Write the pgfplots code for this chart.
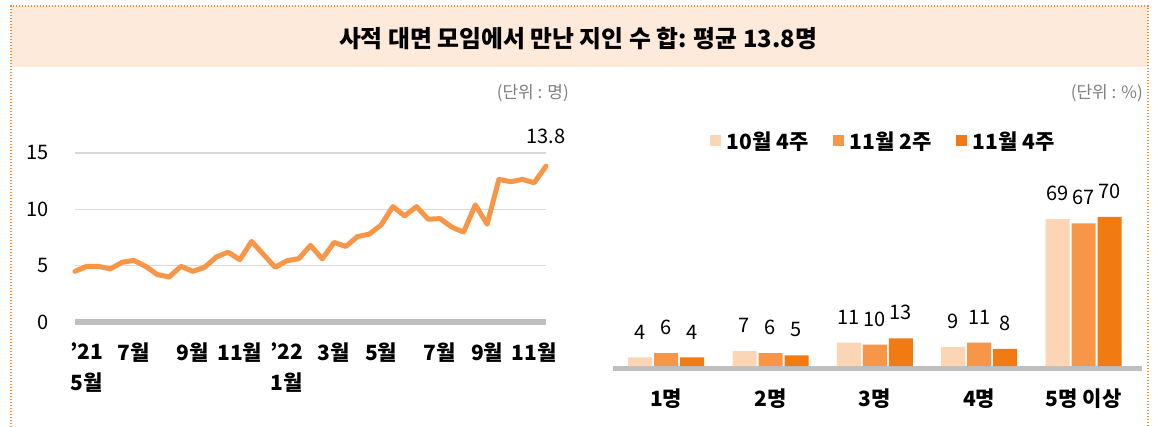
\documentclass[border=0pt]{standalone}
\usepackage{fontspec}
\setmainfont{Noto Sans CJK KR}
\usepackage{pgfplots}
\pgfplotsset{compat=1.18}
\definecolor{lineor}{HTML}{F79646}
\definecolor{cA}{HTML}{FCD5B4}
\definecolor{cB}{HTML}{F79646}
\definecolor{cC}{HTML}{F27A12}
\definecolor{band}{HTML}{FDEADA}
\definecolor{bord}{HTML}{F0883C}
\definecolor{gridc}{HTML}{D9D9D9}
\definecolor{axc}{HTML}{BFBFBF}
\definecolor{unitc}{HTML}{7F7F7F}
\newcommand\tickfont{\fontsize{20bp}{24bp}\selectfont}
\newcommand\labfont{\fontsize{21bp}{31bp}\selectfont\bfseries}
\newcommand\apos{\symbol{39}}
\begin{document}
\begin{tikzpicture}
\fill[white] (0bp,0bp) rectangle (1156bp,427bp);
\fill[band] (11bp,360bp) rectangle (1148bp,421bp);
\draw[bord, line width=1.5bp, dash pattern=on 1.5bp off 1.5bp] (11bp,0bp) -- (11bp,421bp) -- (1148bp,421bp) -- (1148bp,0bp);
\node[font=\fontsize{23.8bp}{28bp}\selectfont\bfseries] at (578bp,388bp) {사적 대면 모임에서 만난 지인 수 합: 평균 13.8명};
\node[anchor=east, inner sep=0, text=unitc, font=\fontsize{17bp}{20bp}\selectfont] at (569bp,334bp) {(단위 : 명)};
\node[anchor=east, inner sep=0, text=unitc, font=\fontsize{17bp}{20bp}\selectfont] at (1143bp,334bp) {(단위 : \%)};

\begin{axis}[at={(75bp,105bp)}, anchor=origin, scale only axis,
  /pgf/number format/assume math mode=true,
  width=471bp, height=169bp, xmin=0, xmax=40, ymin=0, ymax=15,
  clip=false, axis line style={draw=none}, tick style={draw=none},
  ytick={5,10,15}, ymajorgrids, grid style={gridc, line width=1.5bp},
  yticklabel style={font=\tickfont, anchor=east, inner sep=0, xshift=-26bp},
  extra y ticks={0}, extra y tick style={grid=none},
  xtick={1,5,10,14,18,22,26,31,35,39},
  xticklabels={{\apos21\\5월},7월,9월,11월,{\apos22\\1월},3월,5월,7월,9월,11월},
  xticklabel style={font=\labfont, align=center, anchor=north, inner sep=0, yshift=-21bp},
]
\draw[axc, line width=5bp] (axis cs:0,0) -- (axis cs:40,0);
\addplot[lineor, line width=5bp, line join=round, line cap=round] coordinates {
(0,4.5) (1,4.94) (2,4.94) (3,4.71) (4,5.3) (5,5.47) (6,4.94) (7,4.2) (8,4.0) (9,4.94)
(10,4.5) (11,4.85) (12,5.77) (13,6.2) (14,5.53) (15,7.15) (16,6.0) (17,4.85) (18,5.44) (19,5.62)
(20,6.8) (21,5.6) (22,7.06) (23,6.71) (24,7.59) (25,7.8) (26,8.62) (27,10.24) (28,9.42) (29,10.24)
(30,9.12) (31,9.18) (32,8.42) (33,7.98) (34,10.39) (35,8.68) (36,12.66) (37,12.45) (38,12.66) (39,12.36)
(40,13.83)};
\node[anchor=south, inner sep=0, font=\tickfont, yshift=22bp] at (axis cs:40,13.83) {13.8};
\end{axis}

\begin{axis}[at={(666.2bp,61bp)}, anchor=origin, scale only axis,
  /pgf/number format/assume math mode=true,
  width=529bp, height=170.4bp, xmin=-0.51, xmax=4.56, ymin=0, ymax=80,
  clip=false, axis line style={draw=none}, tick style={draw=none},
  ytick=\empty, xtick={0,1,2,3,4},
  xticklabels={1명,2명,3명,4명,5명 이상},
  xticklabel style={font=\labfont, anchor=north, inner sep=0, yshift=-18bp},
  ybar=2bp, bar width=24bp,
  nodes near coords, every node near coord/.append style={font=\tickfont, anchor=south, inner sep=0, yshift=18bp},
  legend style={at={(0.183,1.32)}, anchor=west, draw=none, fill=none, inner xsep=0,
    font=\labfont, legend columns=3,
    /tikz/every odd column/.append style={column sep=4bp},
    /tikz/every even column/.append style={column sep=22bp}},
  legend cell align=left,
]
\draw[axc, line width=5bp, yshift=-2.5bp] (rel axis cs:0,0) -- (rel axis cs:1,0);
\addplot[fill=cA, draw=none, legend image code/.code={\fill[cA] (0bp,-5bp) rectangle (11bp,6bp);}] coordinates {(0,4) (1,7) (2,11) (3,9) (4,69)};
\addplot[fill=cB, draw=none, legend image code/.code={\fill[cB] (0bp,-5bp) rectangle (11bp,6bp);}] coordinates {(0,6) (1,6) (2,10) (3,11) (4,67)};
\addplot[fill=cC, draw=none, legend image code/.code={\fill[cC] (0bp,-5bp) rectangle (11bp,6bp);}] coordinates {(0,4) (1,5) (2,13) (3,8) (4,70)};
\legend{10월 4주,11월 2주,11월 4주}
\end{axis}
\pgfresetboundingbox
\path[use as bounding box] (0bp,0bp) rectangle (1156bp,427bp);
\end{tikzpicture}
\end{document}
